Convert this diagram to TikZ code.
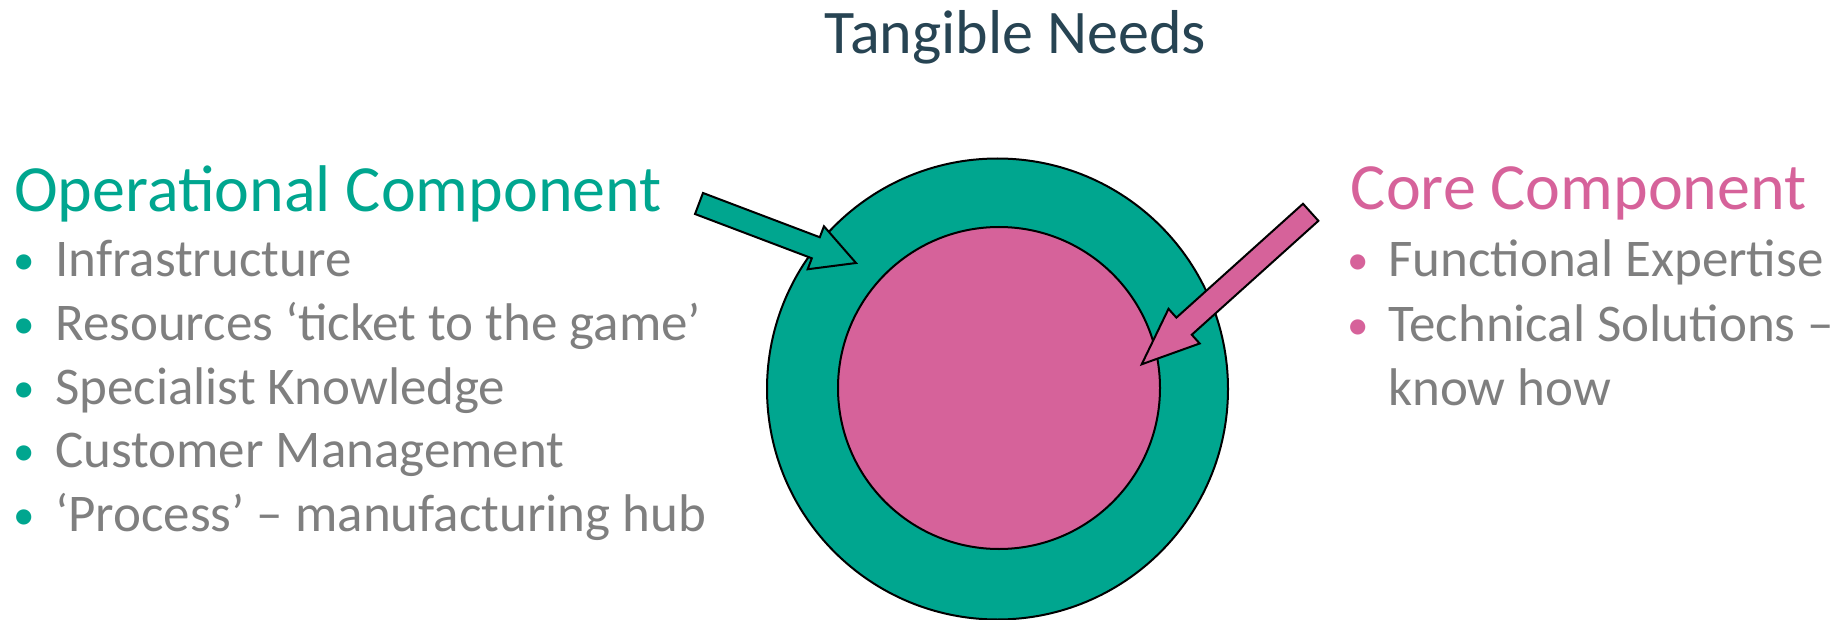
\documentclass[tikz,border=0pt]{standalone}
\usepackage{fontspec}
\setmainfont{Carlito}
\usetikzlibrary{calc}
\definecolor{opGreen}{HTML}{00A68F}
\definecolor{corePink}{HTML}{D6629A}
\definecolor{titleSlate}{HTML}{274453}
\definecolor{itemGray}{HTML}{7F7F7F}

\tikzset{
  headtext/.style={anchor=base west, inner sep=0pt, font=\fontsize{66}{70}\selectfont},
  itemtext/.style={anchor=base west, inner sep=0pt, text=itemGray, font=\fontsize{53}{57}\selectfont},
  bulletmark/.style={anchor=base, inner sep=0pt, font=\fontsize{43}{47}\selectfont},
  ring/.style={circle, draw=black, line width=2pt, inner sep=0pt},
  blockarrow/.style={draw=black, line width=2pt, line join=miter},
}

\begin{document}
\begin{tikzpicture}[x=1pt, y=-1pt]
  \useasboundingbox (0,0) rectangle (1844,620);
  % title
  \node[anchor=base, inner sep=0pt, text=titleSlate, font=\fontsize{62}{66}\selectfont]
    (title) at (1015.5,53.3) {Tangible Needs};

  % the two rings
  \node[ring, fill=opGreen, minimum size=461pt] (outer) at (997.5,389) {};
  \node[ring, fill=corePink, minimum size=322pt] (inner) at (999,388) {};

  % operational component, left
  \node[headtext, text=opGreen] (ophead) at (14,211.7) {Operational Component};
  \foreach \txt [count=\i] in {Infrastructure, Resources ‘ticket to the game’,
      Specialist Knowledge, Customer Management, ‘Process’ – manufacturing hub} {
    \node[bulletmark, text=opGreen] (opb\i) at (24,211+63.7*\i) {•};
    \node[itemtext] (op\i) at (55,213+63.7*\i) {\txt};
  }

  % core component, right
  \node[headtext, text=corePink] (corehead) at (1350.7,210) {Core Component};
  \node[bulletmark, text=corePink] (coreb1) at (1358,274.7) {•};
  \node[itemtext] (core1) at (1388,276.7) {Functional Expertise};
  \node[bulletmark, text=corePink] (coreb2) at (1358,339.7) {•};
  \node[itemtext] (core2) at (1388,341.7) {Technical Solutions –};
  \node[itemtext] (core3) at (1388,405) {know how};

  % green arrow into the outer ring
  \coordinate (gtail) at (699,203.5);
  \coordinate (gtip) at (856,263);
  \coordinate (gneck) at ($(gtip)!43pt!(gtail)$);
  \draw[blockarrow, fill=opGreen]
    ($(gtail)!11.25pt!90:(gtip)$) -- ($(gneck)!11.25pt!90:(gtip)$)
    -- ($(gneck)!23pt!90:(gtip)$) -- (gtip) -- ($(gneck)!23pt!-90:(gtip)$)
    -- ($(gneck)!11.25pt!-90:(gtip)$) -- ($(gtail)!11.25pt!-90:(gtip)$) -- cycle;

  % pink arrow into the core
  \coordinate (ptail) at (1310.7,212.3);
  \coordinate (ptip) at (1141.7,364.3);
  \coordinate (pneck) at ($(ptip)!57pt!(ptail)$);
  \draw[blockarrow, fill=corePink]
    ($(ptail)!11.5pt!90:(ptip)$) -- ($(pneck)!11.5pt!90:(ptip)$)
    -- ($(pneck)!23.3pt!90:(ptip)$) -- (ptip) -- ($(pneck)!23.3pt!-90:(ptip)$)
    -- ($(pneck)!11.5pt!-90:(ptip)$) -- ($(ptail)!11.5pt!-90:(ptip)$) -- cycle;
\end{tikzpicture}
\end{document}
